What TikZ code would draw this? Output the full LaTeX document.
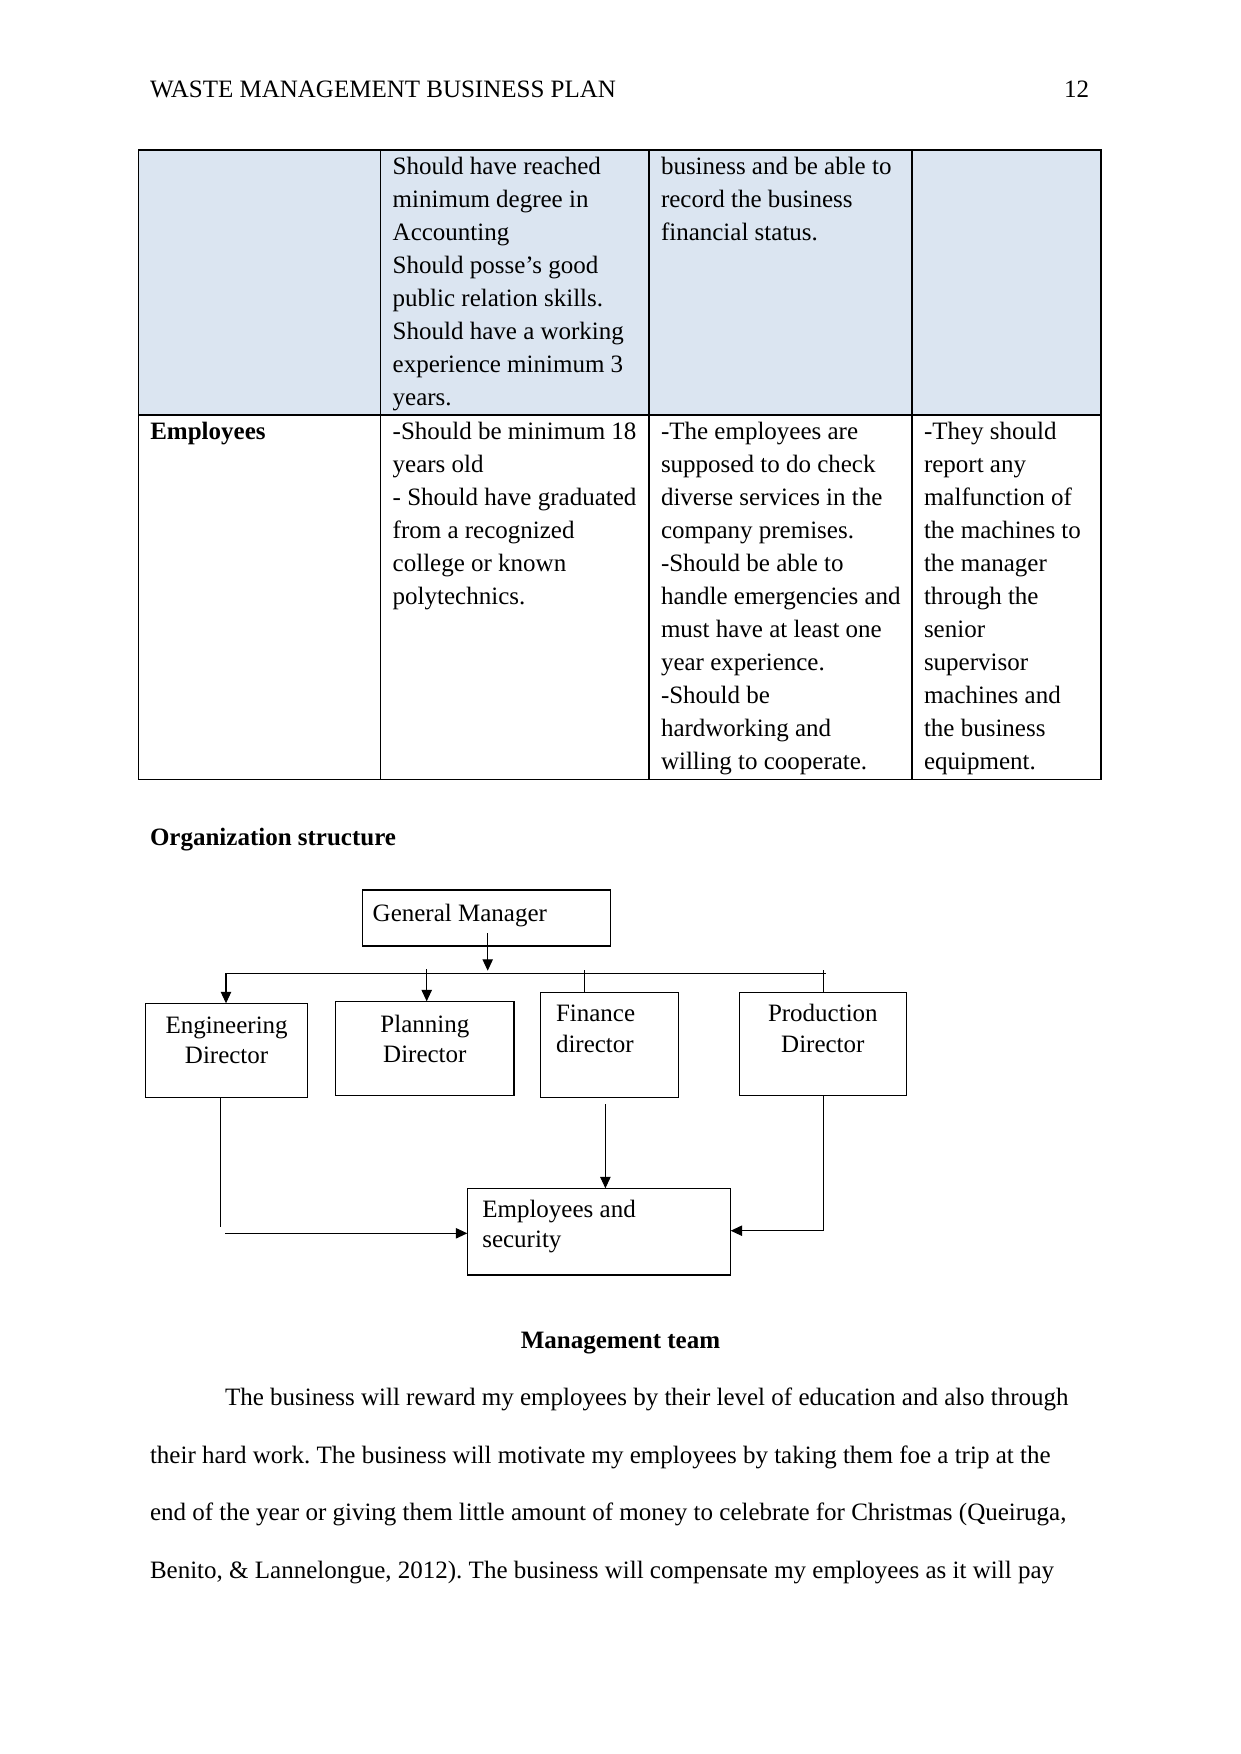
\documentclass[tikz,border=0pt]{standalone}
\usepackage{fontspec}
\setmainfont{Liberation Serif}
\frenchspacing
\usepackage{tikz}
\usetikzlibrary{arrows.meta}
\definecolor{rowblue}{HTML}{DBE5F1}
\newcommand\plaingap{\spaceskip=3pt plus 1.5pt minus 1pt\relax}

\begin{document}
\begin{tikzpicture}[x=0.48pt, y=-0.48pt, >={Triangle[length=5.5pt,width=5pt]},
                    every node/.style={inner sep=0pt, outer sep=0pt},
                    body/.style={font=\fontsize{12pt}{15.84pt}\selectfont, anchor=base west, align=left},
                    chartbox/.style={draw, line width=0.6pt, anchor=north west, inner sep=0pt,
                                     font=\fontsize{12pt}{14.6pt}\selectfont},
                    flow/.style={line width=0.5pt}]
\useasboundingbox (0,0) rectangle (1241,1754);

% running head
\node[body] (hdr) at (150,97.3) {WASTE MANAGEMENT BUSINESS PLAN};
\node[body, anchor=base east] (pgno) at (1089,97.3) {12};

% table
\fill[rowblue] (138.3,150) rectangle (1101,415.2);
\draw[line width=0.7pt] (138.3,150) rectangle (1101,779.3);
\draw[line width=0.7pt] (138.3,415.2) -- (1101,415.2);
\foreach \cx in {380.7,649,912}
  \draw[line width=0.7pt] (\cx,150) -- (\cx,779.3);

\node[body, text width=123pt] (quala) at (392.7,174.3)
  {\plaingap Should have reached\\minimum degree in\\Accounting\\Should posse’s good\\public relation skills.\\Should have a working\\experience minimum 3\\years.};
\node[body, text width=120pt] (dutya) at (661,174.3)
  {\plaingap business and be able to\\record the business\\financial status.};

\node[body, text width=110pt, font=\fontsize{12pt}{15.84pt}\selectfont\bfseries] (role) at (150.3,439.5) {Employees};
\node[body, text width=123pt] (qualb) at (392.7,439.5)
  {\plaingap -Should be minimum 18\\years old\\- Should have graduated\\from a recognized\\college or known\\polytechnics.};
\node[body, text width=120pt] (dutyb) at (661,439.5)
  {\plaingap -The employees are\\supposed to do check\\diverse services in the\\company premises.\\-Should be able to\\handle emergencies and\\must have at least one\\year experience.\\-Should be\\hardworking and\\willing to cooperate.};
\node[body, text width=85pt] (dutyc) at (924,439.5)
  {\plaingap -They should\\report any\\malfunction of\\the machines to\\the manager\\through the\\senior\\supervisor\\machines and\\the business\\equipment.};

\node[body, font=\fontsize{12pt}{15.84pt}\selectfont\bfseries] (orgtitle) at (150,845) {Organization structure};

% chart boxes
\node[chartbox, text width=109.2pt, inner xsep=5pt, align=left, text height=15.2pt, text depth=11.66pt]
  (gm) at (362.3,890) {\plaingap General Manager};
\node[chartbox, text width=77.86pt, align=center, text height=14.4pt, text depth=30.72pt]
  (eng) at (145.5,1003.3) {Engineering\\Director};
\node[chartbox, text width=85.58pt, align=center, text height=14.88pt, text depth=30.24pt]
  (plan) at (335.7,1001.3) {Planning\\Director};
\node[chartbox, text width=51.26pt, inner xsep=7.44pt, align=left, text height=14.11pt, text depth=36.29pt]
  (fin) at (540.5,992.3) {Finance\\director};
\node[chartbox, text width=80.21pt, align=center, text height=14.11pt, text depth=35.33pt]
  (prod) at (739.3,992.3) {Production\\Director};
\node[chartbox, text width=112.03pt, inner xsep=7.2pt, align=left, text height=13.92pt, text depth=27.7pt]
  (emp) at (467.3,1188.3) {\plaingap Employees and\\security};

% free ends of the connectors
\coordinate (gmout) at (487.7,933);
\coordinate (gmbus) at (487.7,970.7);
\coordinate (busL) at (226,973.3);
\coordinate (busR) at (825.7,973.3);
\coordinate (planin) at (426.7,969);
\coordinate (finin) at (584.3,970);
\coordinate (prodin) at (823.3,970);
\coordinate (engout) at (220.7,1227.3);
\coordinate (engturn) at (225,1233.3);
\coordinate (finout) at (605.4,1104);
\coordinate (prodturn) at (823.3,1230.7);

\draw[flow] (busL) -- (busR);
\path[flow, ->]
(gmout) edge (gmbus)
(busL) edge (busL |- eng.north)
(planin) edge (planin |- plan.north)
(finout) edge (finout |- emp.north)
(engturn) edge (engturn -| emp.west);
\draw[flow] (finin) -- (finin |- fin.north);
\draw[flow] (prodin) -- (prodin |- prod.north);
\draw[flow] (engout |- eng.south) -- (engout);
\draw[flow, ->] (prodturn |- prod.south) -- (prodturn) -- (prodturn -| emp.east);

\node[body, anchor=base, font=\fontsize{12pt}{15.84pt}\selectfont\bfseries] (mgmttitle) at (620.5,1348.3) {Management team};
\node[body, text width=456pt, font=\fontsize{12pt}{27.6pt}\selectfont] (para) at (150,1405.7)
  {\plaingap\hspace*{36pt}The business will reward my employees by their level of education and also through\\
   their hard work. The business will motivate my employees by taking them foe a trip at the\\
   end of the year or giving them little amount of money to celebrate for Christmas (Queiruga,\\
   Benito, \& Lannelongue, 2012). The business will compensate my employees as it will pay};
\end{tikzpicture}
\end{document}
